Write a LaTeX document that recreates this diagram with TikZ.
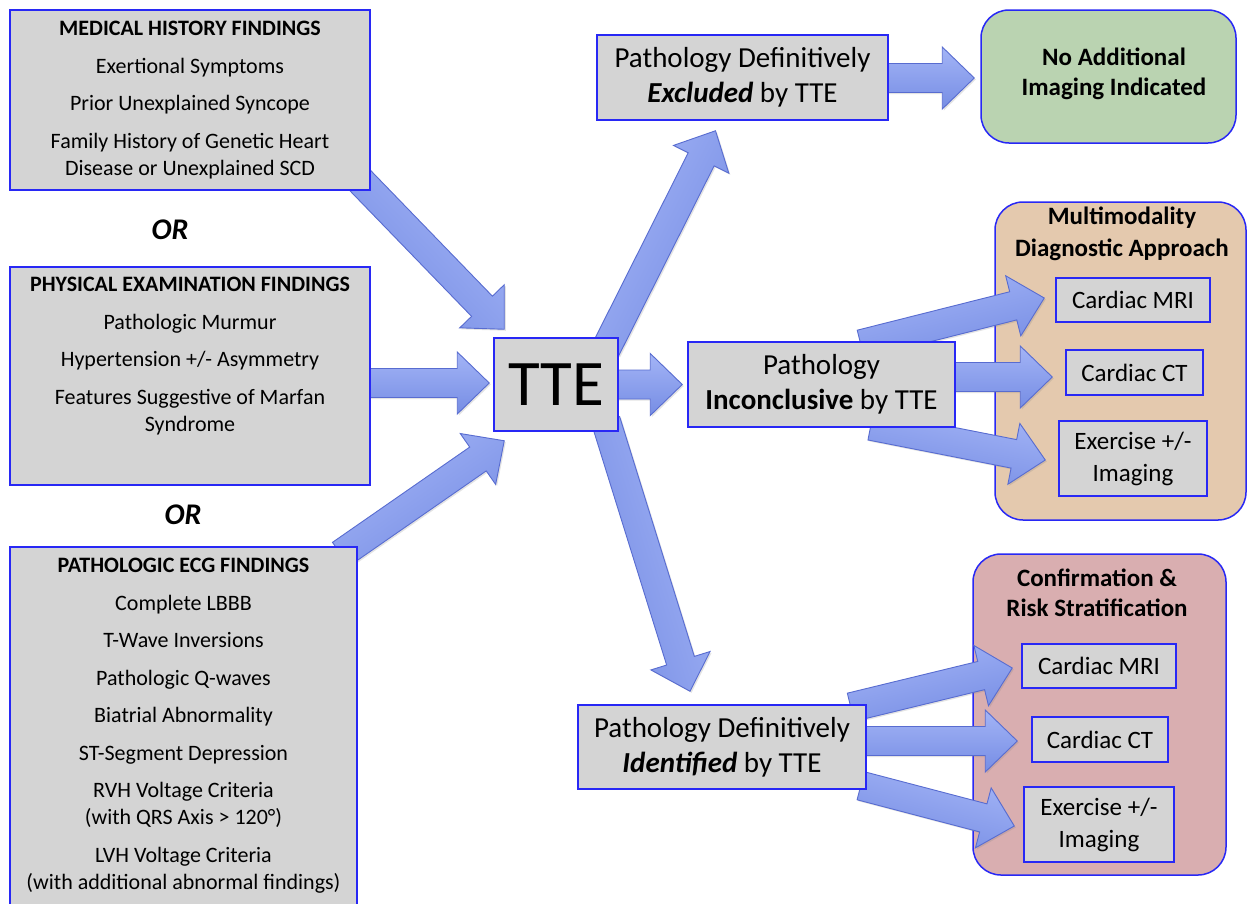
\documentclass[tikz,border=0pt]{standalone}
\usepackage{fontspec}
\setmainfont{Carlito}
\usetikzlibrary{calc,shadows}
\pgfdeclarelayer{bg}\pgfdeclarelayer{mid}
\pgfsetlayers{bg,mid,main}
\definecolor{bordblue}{RGB}{40,40,245}
\definecolor{boxgray}{RGB}{212,212,212}
\definecolor{grn}{RGB}{186,211,177}
\definecolor{tan}{RGB}{228,201,174}
\definecolor{pnk}{RGB}{217,174,176}
\definecolor{arrlight}{RGB}{163,180,246}
\definecolor{arrdark}{RGB}{118,141,228}
\definecolor{arrdraw}{RGB}{88,108,208}
\newcommand\fsz[2]{\fontsize{#1}{#2}\selectfont}
\def\fasw{14.5pt}\def\fahw{31pt}\def\fahl{32pt}
\newcommand\fatarrow[2]{%
  \coordinate (faS) at (#1);
  \coordinate (faE) at (#2);
  \coordinate (faH) at ($(faE)!\fahl!(faS)$);
  \pgfmathanglebetweenpoints{\pgfpointanchor{faS}{center}}{\pgfpointanchor{faE}{center}}%
  \let\faang\pgfmathresult
  \draw[arrowstyle, shading angle=\faang] ($(faS)!\fasw!90:(faE)$) -- ($(faH)!\fasw!-90:(faS)$)
    -- ($(faH)!\fahw!-90:(faS)$) -- (faE) -- ($(faH)!\fahw!90:(faS)$)
    -- ($(faH)!\fasw!90:(faS)$) -- ($(faS)!\fasw!-90:(faE)$) -- cycle;
}
\begin{document}
\begin{tikzpicture}[x=1pt,y=-1pt,
  rbox/.style={draw=bordblue, line width=1.5pt, fill=boxgray, inner sep=0pt, align=center},
  gbox/.style={draw=bordblue, line width=1.5pt, rounded corners=28pt, inner sep=0pt},
  txt/.style={inner sep=0pt, align=center},
  arrowstyle/.style={top color=arrlight, bottom color=arrdark, draw=arrdraw, line width=0.9pt,
     drop shadow={opacity=0.22, shadow xshift=1.5pt, shadow yshift=-1.5pt}},
]
\useasboundingbox (0,0) rectangle (1247,903);

% group boxes
\begin{pgfonlayer}{bg}
\fill[white] (0,0) rectangle (1247,903);
\node[gbox, fill=grn, minimum width=255pt, minimum height=133pt] (noadd) at (1108.5,76.5) {};
\node[gbox, fill=tan, minimum width=251pt, minimum height=318pt] (multi) at (1120.5,361) {};
\node[gbox, fill=pnk, minimum width=253pt, minimum height=321pt] (confirm) at (1099.5,714.5) {};
\end{pgfonlayer}

\node[txt, font=\fsz{25}{30}\bfseries] (noaddt) at (1114,74) {No Additional\\Imaging Indicated};
\node[txt, font=\fsz{25}{32}\bfseries] (multit) at (1122,234) {Multimodality\\Diagnostic Approach};
\node[txt, font=\fsz{25}{30}\bfseries] (confirmt) at (1097,593) {Confirmation \&\\Risk Stratification};

% left boxes
\node[rbox, minimum width=360pt, minimum height=180pt] (mh) at (190,100) {};
\node[txt, font=\fsz{22}{27}] (mht) at (190,100) {{\fsz{22}{27}\bfseries MEDICAL HISTORY FINDINGS}\\[10.5pt]
  Exertional Symptoms\\[10.5pt] Prior Unexplained Syncope\\[10.5pt]
  Family History of Genetic Heart\\Disease or Unexplained SCD};
\node[txt, font=\fsz{30}{36}\bfseries\itshape] (or1) at (170,230) {OR};
\node[rbox, minimum width=360pt, minimum height=218pt] (pe) at (190,376) {};
\node[txt, font=\fsz{22}{27}] (pet) at (190,356) {{\fsz{22}{27}\bfseries PHYSICAL EXAMINATION FINDINGS}\\[10.5pt]
  Pathologic Murmur\\[10.5pt] Hypertension +/- Asymmetry\\[10.5pt]
  Features Suggestive of Marfan\\Syndrome};
\node[txt, font=\fsz{30}{36}\bfseries\itshape] (or2) at (183,515) {OR};
\node[rbox, minimum width=347pt, minimum height=363pt] (ecg) at (183.5,728.5) {};
\node[txt, font=\fsz{22}{27}] (ecgt) at (183.5,725.5) {{\fsz{22}{27}\bfseries PATHOLOGIC ECG FINDINGS}\\[10.5pt]
  Complete LBBB\\[10.5pt] T-Wave Inversions\\[10.5pt] Pathologic Q-waves\\[10.5pt]
  Biatrial Abnormality\\[10.5pt] ST-Segment Depression\\[10.5pt]
  RVH Voltage Criteria\\(with QRS Axis > 120°)\\[10.5pt]
  LVH Voltage Criteria\\(with additional abnormal findings)};

% center
\node[rbox, minimum width=124pt, minimum height=93pt, font=\fsz{65}{70}] (tte) at (556,384.5) {TTE};

% outcome boxes
\node[rbox, minimum width=291pt, minimum height=85pt, font=\fsz{29}{35}] (excl) at (742.5,77.5)
  {Pathology Definitively\\\textbf{\textit{Excluded}} by TTE};
\node[rbox, minimum width=267pt, minimum height=85pt, font=\fsz{29}{35}] (inc) at (821.5,384.5)
  {Pathology\\\textbf{Inconclusive} by TTE};
\node[rbox, minimum width=288pt, minimum height=84pt, font=\fsz{29}{35}] (ident) at (722,747)
  {Pathology Definitively\\\textbf{\textit{Identified}} by TTE};

% inner boxes
\node[rbox, minimum width=154pt, minimum height=44pt, font=\fsz{25}{32}] (mri1) at (1133,300) {Cardiac MRI};
\node[rbox, minimum width=137pt, minimum height=45pt, font=\fsz{25}{32}] (ct1) at (1134.5,372.5) {Cardiac CT};
\node[rbox, minimum width=148pt, minimum height=75pt, font=\fsz{25}{32}] (ex1) at (1133,458.5) {Exercise +/-\\Imaging};
\node[rbox, minimum width=154pt, minimum height=44pt, font=\fsz{25}{32}] (mri2) at (1099,666) {Cardiac MRI};
\node[rbox, minimum width=136pt, minimum height=45pt, font=\fsz{25}{32}] (ct2) at (1100,739.5) {Cardiac CT};
\node[rbox, minimum width=150pt, minimum height=75pt, font=\fsz{25}{32}] (ex2) at (1099,824.5) {Exercise +/-\\Imaging};

% arrows
\begin{pgfonlayer}{mid}
\fatarrow{$(mh.south east)+(-20,-20)$}{$(tte.north west)+(11,-8)$}
\fatarrow{$(pe.east)+(-5,7)$}{$(tte.west)+(-4,-1.5)$}
\fatarrow{$(ecg.north east)+(-17,8)$}{$(tte.south west)+(11,9)$}
\fatarrow{$(tte.north east)+(-13,12)$}{$(excl.south)+(-27,10)$}
\fatarrow{$(tte.east)+(-6,0)$}{$(inc.west)+(-5,0)$}
\fatarrow{$(tte.south east)+(-13,-11)$}{$(ident.north)+(-32,-13)$}
\fatarrow{$(excl.east)+(-3,0.5)$}{$(noadd.west)+(-6,1.5)$}
\fatarrow{$(inc.north east)+(-95,3)$}{$(mri1.west)+(-11,-2)$}
\fatarrow{$(inc.east)+(-5,-7.5)$}{$(ct1.west)+(-13,4.5)$}
\fatarrow{$(inc.south east)+(-85,-2)$}{$(ex1.west)+(-13,1.5)$}
\fatarrow{$(ident.north east)+(-16,3)$}{$(mri2.west)+(-9,2)$}
\fatarrow{$(ident.east)+(-4,-6)$}{$(ct2.west)+(-14,1.5)$}
\fatarrow{$(ident.south east)+(-6,-4)$}{$(ex2.west)+(-9,1.5)$}
\end{pgfonlayer}
\end{tikzpicture}
\end{document}
